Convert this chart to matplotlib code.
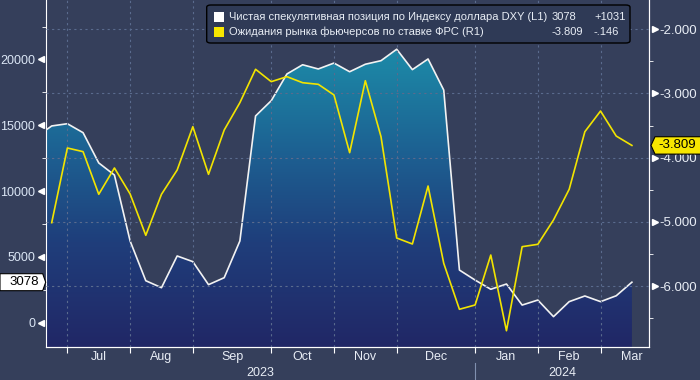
import numpy as np
import pandas as pd
import matplotlib
matplotlib.use('Agg')
import matplotlib.pyplot as plt
from matplotlib.colors import LinearSegmentedColormap
from matplotlib.patches import Polygon, FancyBboxPatch, Rectangle
from matplotlib.transforms import blended_transform_factory, IdentityTransform

plt.rcParams['font.family'] = ['Liberation Sans', 'DejaVu Sans']

# недельные данные (пятница)
dates = pd.date_range('2023-06-23', '2024-03-15', freq='W-FRI')

# чистая спекулятивная позиция по DXY (левая ось)
net_pos = [14110, 14950, 15120, 14440, 12140, 11220, 6210, 3190, 2660, 5070,
           4640, 2890, 3420, 6210, 15710, 16870, 18900, 19600, 19280, 19730,
           19070, 19640, 19910, 20780, 19230, 20040, 17680, 4000, 3240, 2540,
           2940, 1340, 1720, 460, 1600, 2030, 1600, 2047, 3078]

# ожидания рынка фьючерсов по ставке ФРС (правая ось)
fed_exp = [np.nan, -5.012, -3.849, -3.906, -4.570, -4.160, -4.565, -5.209, -4.570,
           -4.192, -3.517, -4.259, -3.569, -3.143, -2.623, -2.816, -2.738, -2.832,
           -2.857, -3.023, -3.922, -2.801, -3.673, -5.251, -5.344, -4.441, -5.645,
           -6.361, -6.294, -5.516, -6.695, -5.386, -5.349, -4.970, -4.492, -3.595,
           -3.273, -3.663, -3.809]

legend_names = ['Чистая спекулятивная позиция по Индексу доллара DXY (L1)',
                'Ожидания рынка фьючерсов по ставке ФРС (R1)']
legend_last = ['3078', '-3.809']
legend_chg = ['+1031', '-.146']

left_ticks = [0, 5000, 10000, 15000, 20000]
right_ticks = [-6, -5, -4, -3, -2]

BG = '#353f5b'
TXT = '#e8edf5'
GRID = '#5a6b8e'

n = len(dates)
x = np.arange(n)
xlim = (0.617, 39.09)
ylim_l = (-1869, 24521)
ylim_r = (-6.953, -1.544)

fig = plt.figure(figsize=(7, 3.8), dpi=100, facecolor=BG)
ax = fig.add_axes([45.7 / 700, 1 - 347.3 / 380, (649 - 45.7) / 700, 347.3 / 380])
ax.set_facecolor(BG)
ax2 = ax.twinx()

ax.set_xlim(*xlim)
ax.set_ylim(*ylim_l)
ax2.set_ylim(*ylim_r)

# градиентная заливка под белой линией
cmap = LinearSegmentedColormap.from_list('fill', [(0, '#212766'), (0.3, '#1f3e7b'),
                                                  (0.55, '#1d5f91'), (0.8, '#1c83a4'),
                                                  (1, '#1e94b0')])
grad = np.linspace(0, 1, 256).reshape(-1, 1)
img = ax.imshow(grad, extent=[xlim[0], xlim[1], ylim_l[0], ylim_l[1]], origin='lower',
                aspect='auto', cmap=cmap, zorder=1)
poly = ax.fill_between(x, net_pos, ylim_l[0] - 5000, color='none')
img.set_clip_path(poly.get_paths()[0], transform=ax.transData)
ax.plot(x, net_pos, color='#f2f2f2', lw=1.2, zorder=3)
ax.set_xlim(*xlim)
ax.set_ylim(*ylim_l)

ax2.plot(x, fed_exp, color='#f2e400', lw=1.2, zorder=3)

# сетка
periods = dates.to_period('M')
starts = [i for i in range(1, n) if periods[i] != periods[i - 1]]
for i in starts:
    ax2.axvline(x[i], color=GRID, lw=0.8, ls=(0, (2, 3)), zorder=2)
for v in right_ticks:
    ax2.axhline(v, color=GRID, lw=0.8, ls=(0, (2, 3)), zorder=2)

# оси
for a in (ax, ax2):
    for s in a.spines.values():
        s.set_color('white')
    a.spines['top'].set_visible(False)
ax2.spines['left'].set_visible(False)

ax.set_xticks(x[starts])
ax.set_xticklabels([])
ax.tick_params(axis='x', which='major', length=4, color='white', direction='out')
mids = [(starts[k] + starts[k + 1]) / 2 for k in range(len(starts) - 1)] + [n - 1]
ax.set_xticks(mids, minor=True)
ax.set_xticklabels([dates[i].strftime('%b') for i in starts], minor=True)
ax.tick_params(axis='x', which='minor', length=0, pad=3, labelsize=9, labelcolor=TXT)

ax.set_yticks(left_ticks)
ax.set_yticks(np.arange(2500, 25000, 5000), minor=True)
ax.tick_params(axis='y', which='major', length=0, pad=7.7, labelsize=9, labelcolor='#dbe6f5')
ax.tick_params(axis='y', which='minor', length=3, color='white', direction='out')

ax2.set_yticks(right_ticks)
ax2.set_yticklabels(['%.3f' % v for v in right_ticks])
ax2.set_yticks(np.arange(-6.5, -2.0, 1.0), minor=True)
ax2.tick_params(axis='y', which='major', length=0, pad=7.2, labelsize=9.5, labelcolor=TXT)
ax2.tick_params(axis='y', which='minor', length=3, color='white', direction='out')

# треугольные метки делений
bl = blended_transform_factory(ax.transAxes, ax.transData)
ax.plot([-0.0078] * len(left_ticks), left_ticks, ls='none', marker='<', ms=5,
        color='white', transform=bl, clip_on=False)
br = blended_transform_factory(ax2.transAxes, ax2.transData)
ax2.plot([1.0099] * len(right_ticks), right_ticks, ls='none', marker='>', ms=5,
         color='white', transform=br, clip_on=False)

# годы: подпись по центру видимого участка года
years = sorted(set(d.year for d in dates[starts[0]:]))
bx = blended_transform_factory(ax.transData, ax.transAxes)
for k, yr in enumerate(years):
    idx = [i for i in starts if dates[i].year == yr]
    a0 = idx[0] if k > 0 else xlim[0]
    a1 = [i for i in starts if dates[i].year == yr + 1]
    a1 = a1[0] if a1 else xlim[1]
    ax.text((a0 + a1) / 2, -0.075, str(yr), transform=bx, ha='center', va='center',
            fontsize=9, color=TXT)
    if k > 0:
        ax.plot([a0, a0], [-0.045, -0.1], color='#8090b0', lw=0.8, transform=bx, clip_on=False)

# метки последних значений
W, H = 700, 380
fig.canvas.draw()
yl = ax.transData.transform((0, net_pos[-1]))[1]
xs = ax.transAxes.transform((0, 0))[0]
fig.add_artist(Polygon([(0, yl - 8.5), (xs - 3, yl - 8.5), (xs, yl), (xs - 3, yl + 8.5), (0, yl + 8.5)],
                       closed=True, fc='white', ec='black', lw=0.8, transform=IdentityTransform()))
fig.text((xs - 7) / W, yl / H, legend_last[0], ha='right', va='center', fontsize=9.5, color='black')

yr_ = ax2.transData.transform((0, fed_exp[-1]))[1]
xe = ax2.transAxes.transform((1, 0))[0] + 2
fig.add_artist(Polygon([(xe, yr_), (xe + 4, yr_ - 8.7), (W + 5, yr_ - 8.7), (W + 5, yr_ + 8.7), (xe + 4, yr_ + 8.7)],
                       closed=True, fc='#f7e600', ec='black', lw=0.8, transform=IdentityTransform()))
fig.text((xe + 7) / W, yr_ / H, legend_last[1], ha='left', va='center', fontsize=9.5, color='black')

# легенда
fig.add_artist(FancyBboxPatch((206.7 / W, 1 - 43 / H), 423.3 / W, 38 / H,
                              boxstyle='round,pad=0,rounding_size=0.006', fc='#2f3a56', ec='black',
                              lw=1, transform=fig.transFigure, zorder=5))
colors = ['white', '#f7e600']
rows = [17, 32]
for k in range(2):
    yy = 1 - rows[k] / H
    fig.add_artist(Rectangle((214 / W, yy - 4.5 / H), 9.5 / W, 9.5 / H, fc=colors[k], ec='none',
                             transform=fig.transFigure, zorder=6))
    fig.text(229 / W, yy, legend_names[k], fontsize=8, color=TXT, va='center', zorder=6)
    fig.text(552 / W, yy, legend_last[k], fontsize=8, color=TXT, va='center', zorder=6)
    fig.text(594 / W, yy, legend_chg[k], fontsize=8, color=TXT, va='center', zorder=6)

fig.savefig('out.png', dpi=100, facecolor=BG)
